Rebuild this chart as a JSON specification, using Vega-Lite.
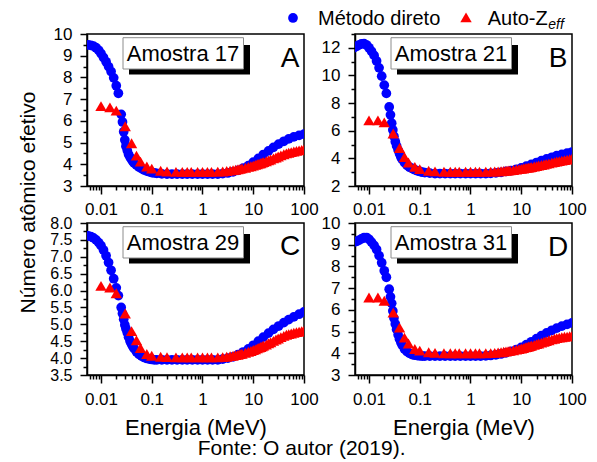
{
"$schema": "https://vega.github.io/schema/vega-lite/v6.json",
"background": "white",
"padding": {"left": 16, "top": 7, "right": 5, "bottom": 0},
"config": {
  "font": "Liberation Sans",
  "view": {"stroke": "black", "strokeWidth": 1.5},
  "axis": {"labelFontSize": 17, "labelColor": "black", "labelFont": "Liberation Sans", "domainColor": "black", "domainWidth": 1.5, "tickColor": "black", "tickWidth": 1.5, "grid": false, "titleColor": "black", "titleFontWeight": "normal", "titleFont": "Liberation Sans"},
  "text": {"color": "black"}
},
"title": {"text": "Fonte: O autor (2019).", "orient": "bottom", "anchor": "middle", "frame": "bounds", "fontSize": 21, "fontWeight": "normal", "color": "black", "font": "Liberation Sans", "offset": -1},
"datasets": {
  "mA": [{"e":0.005,"z":9.5},{"e":0.0056,"z":9.5},{"e":0.0063,"z":9.48},{"e":0.0071,"z":9.44},{"e":0.008,"z":9.37},{"e":0.009,"z":9.25},{"e":0.01,"z":9.1},{"e":0.0112,"z":8.92},{"e":0.0126,"z":8.72},{"e":0.0141,"z":8.5},{"e":0.0158,"z":8.27},{"e":0.0178,"z":7.98},{"e":0.02,"z":7.62},{"e":0.022,"z":7.27},{"e":0.025,"z":6.3},{"e":0.0265,"z":5.95},{"e":0.028,"z":5.5},{"e":0.0295,"z":5.12},{"e":0.031,"z":4.83},{"e":0.033,"z":4.63},{"e":0.035,"z":4.45},{"e":0.0375,"z":4.32},{"e":0.04,"z":4.22},{"e":0.0425,"z":4.13},{"e":0.045,"z":4.06},{"e":0.05,"z":3.96},{"e":0.056,"z":3.87},{"e":0.063,"z":3.8},{"e":0.071,"z":3.74},{"e":0.08,"z":3.69},{"e":0.09,"z":3.65},{"e":0.1,"z":3.62},{"e":0.112,"z":3.6},{"e":0.126,"z":3.58},{"e":0.158,"z":3.56},{"e":0.2,"z":3.55},{"e":0.25,"z":3.55},{"e":0.316,"z":3.55},{"e":0.4,"z":3.55},{"e":0.5,"z":3.55},{"e":0.63,"z":3.55},{"e":0.8,"z":3.55},{"e":1,"z":3.55},{"e":1.26,"z":3.55},{"e":1.58,"z":3.55},{"e":2,"z":3.55},{"e":2.5,"z":3.57},{"e":3.16,"z":3.6},{"e":4,"z":3.65},{"e":5,"z":3.72},{"e":6.3,"z":3.82},{"e":8,"z":3.94},{"e":10,"z":4.1},{"e":12.6,"z":4.27},{"e":15.8,"z":4.45},{"e":20,"z":4.62},{"e":25,"z":4.78},{"e":31.6,"z":4.93},{"e":40,"z":5.06},{"e":50,"z":5.17},{"e":63,"z":5.26},{"e":80,"z":5.33},{"e":100,"z":5.39}],
  "aA": [{"e":0.01,"z":6.68},{"e":0.015,"z":6.62},{"e":0.02,"z":6.47},{"e":0.03,"z":5.75},{"e":0.04,"z":4.97},{"e":0.05,"z":4.4},{"e":0.06,"z":4.12},{"e":0.08,"z":3.9},{"e":0.1,"z":3.8},{"e":0.15,"z":3.7},{"e":0.2,"z":3.67},{"e":0.3,"z":3.65},{"e":0.4,"z":3.65},{"e":0.5,"z":3.65},{"e":0.6,"z":3.65},{"e":0.8,"z":3.65},{"e":1,"z":3.65},{"e":1.25,"z":3.65},{"e":1.5,"z":3.65},{"e":2,"z":3.66},{"e":2.5,"z":3.67},{"e":3,"z":3.69},{"e":3.5,"z":3.71},{"e":4,"z":3.73},{"e":4.5,"z":3.75},{"e":5,"z":3.77},{"e":5.5,"z":3.79},{"e":6,"z":3.81},{"e":7,"z":3.84},{"e":8,"z":3.88},{"e":9,"z":3.91},{"e":10,"z":3.94},{"e":11,"z":3.97},{"e":12,"z":4.0},{"e":13,"z":4.03},{"e":14,"z":4.05},{"e":15,"z":4.08},{"e":16,"z":4.1},{"e":18,"z":4.14},{"e":20,"z":4.18},{"e":22,"z":4.22},{"e":25,"z":4.27},{"e":28,"z":4.31},{"e":31,"z":4.36},{"e":35,"z":4.41},{"e":40,"z":4.46},{"e":45,"z":4.5},{"e":50,"z":4.53},{"e":56,"z":4.56},{"e":63,"z":4.59},{"e":71,"z":4.62},{"e":80,"z":4.64},{"e":90,"z":4.66},{"e":100,"z":4.68}],
  "mB": [{"e":0.005,"z":12.0},{"e":0.0056,"z":12.1},{"e":0.0063,"z":12.2},{"e":0.0071,"z":12.28},{"e":0.008,"z":12.3},{"e":0.009,"z":12.2},{"e":0.01,"z":12.0},{"e":0.0112,"z":11.75},{"e":0.0126,"z":11.45},{"e":0.0141,"z":11.05},{"e":0.0158,"z":10.55},{"e":0.0178,"z":9.95},{"e":0.02,"z":9.3},{"e":0.022,"z":8.7},{"e":0.025,"z":7.72},{"e":0.0265,"z":7.15},{"e":0.028,"z":6.55},{"e":0.0295,"z":6.05},{"e":0.031,"z":5.6},{"e":0.033,"z":5.2},{"e":0.035,"z":4.9},{"e":0.0375,"z":4.6},{"e":0.04,"z":4.33},{"e":0.0425,"z":4.1},{"e":0.045,"z":3.93},{"e":0.05,"z":3.7},{"e":0.056,"z":3.5},{"e":0.063,"z":3.36},{"e":0.071,"z":3.27},{"e":0.08,"z":3.18},{"e":0.09,"z":3.1},{"e":0.1,"z":3.05},{"e":0.112,"z":3.0},{"e":0.126,"z":2.97},{"e":0.158,"z":2.93},{"e":0.2,"z":2.9},{"e":0.25,"z":2.9},{"e":0.316,"z":2.9},{"e":0.4,"z":2.9},{"e":0.5,"z":2.9},{"e":0.63,"z":2.9},{"e":0.8,"z":2.9},{"e":1,"z":2.9},{"e":1.26,"z":2.9},{"e":1.58,"z":2.9},{"e":2,"z":2.9},{"e":2.5,"z":2.92},{"e":3.16,"z":2.95},{"e":4,"z":2.99},{"e":5,"z":3.05},{"e":6.3,"z":3.12},{"e":8,"z":3.21},{"e":10,"z":3.31},{"e":12.6,"z":3.43},{"e":15.8,"z":3.56},{"e":20,"z":3.7},{"e":25,"z":3.83},{"e":31.6,"z":3.96},{"e":40,"z":4.08},{"e":50,"z":4.19},{"e":63,"z":4.29},{"e":80,"z":4.38},{"e":100,"z":4.46}],
  "aB": [{"e":0.01,"z":6.75},{"e":0.015,"z":6.75},{"e":0.02,"z":6.6},{"e":0.03,"z":5.8},{"e":0.04,"z":4.75},{"e":0.05,"z":4.1},{"e":0.06,"z":3.7},{"e":0.08,"z":3.38},{"e":0.1,"z":3.22},{"e":0.15,"z":3.1},{"e":0.2,"z":3.06},{"e":0.3,"z":3.03},{"e":0.4,"z":3.03},{"e":0.5,"z":3.03},{"e":0.6,"z":3.03},{"e":0.8,"z":3.03},{"e":1,"z":3.03},{"e":1.25,"z":3.03},{"e":1.5,"z":3.03},{"e":2,"z":3.03},{"e":2.5,"z":3.04},{"e":3,"z":3.05},{"e":3.5,"z":3.06},{"e":4,"z":3.07},{"e":4.5,"z":3.09},{"e":5,"z":3.1},{"e":5.5,"z":3.12},{"e":6,"z":3.13},{"e":7,"z":3.16},{"e":8,"z":3.19},{"e":9,"z":3.22},{"e":10,"z":3.24},{"e":11,"z":3.27},{"e":12,"z":3.29},{"e":13,"z":3.31},{"e":14,"z":3.33},{"e":15,"z":3.35},{"e":16,"z":3.37},{"e":18,"z":3.41},{"e":20,"z":3.44},{"e":22,"z":3.48},{"e":25,"z":3.52},{"e":28,"z":3.56},{"e":31,"z":3.6},{"e":35,"z":3.64},{"e":40,"z":3.69},{"e":45,"z":3.73},{"e":50,"z":3.77},{"e":56,"z":3.8},{"e":63,"z":3.84},{"e":71,"z":3.87},{"e":80,"z":3.91},{"e":90,"z":3.94},{"e":100,"z":3.97}],
  "mC": [{"e":0.005,"z":7.63},{"e":0.0056,"z":7.62},{"e":0.0063,"z":7.6},{"e":0.0071,"z":7.56},{"e":0.008,"z":7.5},{"e":0.009,"z":7.42},{"e":0.01,"z":7.33},{"e":0.0112,"z":7.2},{"e":0.0126,"z":7.03},{"e":0.0141,"z":6.83},{"e":0.0158,"z":6.6},{"e":0.0178,"z":6.35},{"e":0.02,"z":6.08},{"e":0.022,"z":5.85},{"e":0.025,"z":5.5},{"e":0.0265,"z":5.32},{"e":0.028,"z":5.15},{"e":0.0295,"z":4.98},{"e":0.031,"z":4.87},{"e":0.033,"z":4.75},{"e":0.035,"z":4.62},{"e":0.0375,"z":4.5},{"e":0.04,"z":4.41},{"e":0.0425,"z":4.34},{"e":0.045,"z":4.28},{"e":0.05,"z":4.19},{"e":0.056,"z":4.11},{"e":0.063,"z":4.06},{"e":0.071,"z":4.02},{"e":0.08,"z":3.99},{"e":0.09,"z":3.97},{"e":0.1,"z":3.96},{"e":0.112,"z":3.95},{"e":0.126,"z":3.95},{"e":0.158,"z":3.95},{"e":0.2,"z":3.95},{"e":0.25,"z":3.95},{"e":0.316,"z":3.95},{"e":0.4,"z":3.95},{"e":0.5,"z":3.95},{"e":0.63,"z":3.95},{"e":0.8,"z":3.95},{"e":1,"z":3.95},{"e":1.26,"z":3.95},{"e":1.58,"z":3.95},{"e":2,"z":3.95},{"e":2.5,"z":3.97},{"e":3.16,"z":4.0},{"e":4,"z":4.04},{"e":5,"z":4.1},{"e":6.3,"z":4.18},{"e":8,"z":4.27},{"e":10,"z":4.38},{"e":12.6,"z":4.5},{"e":15.8,"z":4.62},{"e":20,"z":4.74},{"e":25,"z":4.85},{"e":31.6,"z":4.95},{"e":40,"z":5.05},{"e":50,"z":5.14},{"e":63,"z":5.22},{"e":80,"z":5.3},{"e":100,"z":5.37}],
  "aC": [{"e":0.01,"z":6.14},{"e":0.015,"z":6.09},{"e":0.02,"z":5.92},{"e":0.03,"z":5.32},{"e":0.04,"z":4.8},{"e":0.05,"z":4.53},{"e":0.06,"z":4.3},{"e":0.08,"z":4.12},{"e":0.1,"z":4.07},{"e":0.15,"z":4.04},{"e":0.2,"z":4.03},{"e":0.3,"z":4.02},{"e":0.4,"z":4.02},{"e":0.5,"z":4.02},{"e":0.6,"z":4.02},{"e":0.8,"z":4.02},{"e":1,"z":4.02},{"e":1.25,"z":4.02},{"e":1.5,"z":4.02},{"e":2,"z":4.02},{"e":2.5,"z":4.03},{"e":3,"z":4.04},{"e":3.5,"z":4.06},{"e":4,"z":4.07},{"e":4.5,"z":4.09},{"e":5,"z":4.1},{"e":5.5,"z":4.12},{"e":6,"z":4.13},{"e":7,"z":4.16},{"e":8,"z":4.19},{"e":9,"z":4.21},{"e":10,"z":4.24},{"e":11,"z":4.26},{"e":12,"z":4.29},{"e":13,"z":4.31},{"e":14,"z":4.33},{"e":15,"z":4.35},{"e":16,"z":4.37},{"e":18,"z":4.4},{"e":20,"z":4.44},{"e":22,"z":4.47},{"e":25,"z":4.51},{"e":28,"z":4.55},{"e":31,"z":4.58},{"e":35,"z":4.62},{"e":40,"z":4.66},{"e":45,"z":4.69},{"e":50,"z":4.71},{"e":56,"z":4.73},{"e":63,"z":4.75},{"e":71,"z":4.77},{"e":80,"z":4.78},{"e":90,"z":4.8},{"e":100,"z":4.81}],
  "mD": [{"e":0.005,"z":9.12},{"e":0.0056,"z":9.15},{"e":0.0063,"z":9.2},{"e":0.0071,"z":9.27},{"e":0.008,"z":9.33},{"e":0.009,"z":9.33},{"e":0.01,"z":9.25},{"e":0.0112,"z":9.12},{"e":0.0126,"z":8.97},{"e":0.0141,"z":8.78},{"e":0.0158,"z":8.5},{"e":0.0178,"z":8.17},{"e":0.02,"z":7.8},{"e":0.022,"z":7.5},{"e":0.025,"z":6.95},{"e":0.0265,"z":6.6},{"e":0.028,"z":6.3},{"e":0.0295,"z":5.95},{"e":0.031,"z":5.62},{"e":0.033,"z":5.35},{"e":0.035,"z":5.1},{"e":0.0375,"z":4.85},{"e":0.04,"z":4.65},{"e":0.0425,"z":4.5},{"e":0.045,"z":4.38},{"e":0.05,"z":4.2},{"e":0.056,"z":4.08},{"e":0.063,"z":4.0},{"e":0.071,"z":3.94},{"e":0.08,"z":3.91},{"e":0.09,"z":3.89},{"e":0.1,"z":3.88},{"e":0.112,"z":3.87},{"e":0.126,"z":3.87},{"e":0.158,"z":3.87},{"e":0.2,"z":3.87},{"e":0.25,"z":3.87},{"e":0.316,"z":3.87},{"e":0.4,"z":3.87},{"e":0.5,"z":3.87},{"e":0.63,"z":3.87},{"e":0.8,"z":3.87},{"e":1,"z":3.87},{"e":1.26,"z":3.87},{"e":1.58,"z":3.87},{"e":2,"z":3.88},{"e":2.5,"z":3.9},{"e":3.16,"z":3.93},{"e":4,"z":3.97},{"e":5,"z":4.02},{"e":6.3,"z":4.09},{"e":8,"z":4.17},{"e":10,"z":4.27},{"e":12.6,"z":4.4},{"e":15.8,"z":4.53},{"e":20,"z":4.67},{"e":25,"z":4.81},{"e":31.6,"z":4.94},{"e":40,"z":5.06},{"e":50,"z":5.16},{"e":63,"z":5.25},{"e":80,"z":5.33},{"e":100,"z":5.4}],
  "aD": [{"e":0.01,"z":6.57},{"e":0.015,"z":6.57},{"e":0.02,"z":6.42},{"e":0.03,"z":5.87},{"e":0.04,"z":5.18},{"e":0.05,"z":4.72},{"e":0.06,"z":4.45},{"e":0.08,"z":4.2},{"e":0.1,"z":4.12},{"e":0.15,"z":4.05},{"e":0.2,"z":4.02},{"e":0.3,"z":4.0},{"e":0.4,"z":4.0},{"e":0.5,"z":4.0},{"e":0.6,"z":4.0},{"e":0.8,"z":4.0},{"e":1,"z":4.0},{"e":1.25,"z":4.0},{"e":1.5,"z":4.0},{"e":2,"z":4.0},{"e":2.5,"z":4.01},{"e":3,"z":4.02},{"e":3.5,"z":4.04},{"e":4,"z":4.05},{"e":4.5,"z":4.07},{"e":5,"z":4.08},{"e":5.5,"z":4.1},{"e":6,"z":4.11},{"e":7,"z":4.14},{"e":8,"z":4.17},{"e":9,"z":4.19},{"e":10,"z":4.22},{"e":11,"z":4.24},{"e":12,"z":4.27},{"e":13,"z":4.29},{"e":14,"z":4.31},{"e":15,"z":4.33},{"e":16,"z":4.35},{"e":18,"z":4.39},{"e":20,"z":4.42},{"e":22,"z":4.45},{"e":25,"z":4.49},{"e":28,"z":4.53},{"e":31,"z":4.56},{"e":35,"z":4.6},{"e":40,"z":4.64},{"e":45,"z":4.67},{"e":50,"z":4.7},{"e":56,"z":4.72},{"e":63,"z":4.74},{"e":71,"z":4.76},{"e":80,"z":4.77},{"e":90,"z":4.79},{"e":100,"z":4.8}]
},
"columns": 2,
"spacing": {"row": 37, "column": 51},
"bounds": "flush",
"concat": [
{
 "width": 217, "height": 152,
 "layer": [
  {"data": {"name": "mA"},
   "mark": {"type": "point", "shape": "circle", "filled": true, "size": 95, "color": "#0000ff", "opacity": 1, "clip": true},
   "encoding": {
    "x": {"field": "e", "type": "quantitative", "scale": {"type": "log", "domain": [0.0053, 100], "nice": false}, "axis": {"orient": "bottom", "values": [0.01, 0.1, 1, 10, 100], "format": "~g", "tickSize": 8, "labelPadding": 7, "labelFlush": false, "labelOverlap": false, "title": null}},
    "y": {"field": "z", "type": "quantitative", "scale": {"domain": [3, 10], "nice": false, "zero": false}, "axis": {"orient": "left", "values": [3, 4, 5, 6, 7, 8, 9, 10], "tickSize": 7, "labelPadding": 8, "labelFlush": false, "labelOverlap": false, "title": "Número atômico efetivo", "titleFontSize": 21, "titleAngle": 270, "titleAlign": "center", "titleBaseline": "alphabetic", "titleX": -53, "titleY": 168}}
   }},
  {"data": {"name": "aA"},
   "mark": {"type": "point", "shape": "triangle-up", "filled": true, "size": 130, "color": "#ff0000", "opacity": 1, "clip": true},
   "encoding": {
    "x": {"field": "e", "type": "quantitative", "scale": {"type": "log", "domain": [0.0053, 100], "nice": false}, "axis": {"orient": "bottom", "values": [0.006,0.007,0.008,0.009,0.02,0.03,0.04,0.05,0.06,0.07,0.08,0.09,0.2,0.3,0.4,0.5,0.6,0.7,0.8,0.9,2,3,4,5,6,7,8,9,20,30,40,50,60,70,80,90], "tickSize": 4, "labels": false, "domain": false, "title": null}},
    "y": {"field": "z", "type": "quantitative", "scale": {"domain": [3, 10], "nice": false, "zero": false}, "axis": {"orient": "left", "values": [3.5, 4.5, 5.5, 6.5, 7.5, 8.5, 9.5], "tickSize": 4, "labels": false, "domain": false, "title": null}}
   }},
  {"data": {"values": [{}]}, "mark": {"type": "rect", "color": "#000000"},
   "encoding": {"x": {"datum": 0.03564, "type": "quantitative", "scale": {"type": "log", "domain": [0.0053, 100], "nice": false}, "axis": null}, "x2": {"datum": 8.63}, "y": {"datum": 9.493, "type": "quantitative", "scale": {"domain": [3, 10], "nice": false, "zero": false}, "axis": null}, "y2": {"datum": 8.135}}},
  {"data": {"values": [{}]}, "mark": {"type": "rect", "fill": "#ffffff", "stroke": "#8c8c8c", "strokeWidth": 1},
   "encoding": {"x": {"datum": 0.02715, "type": "quantitative", "scale": {"type": "log", "domain": [0.0053, 100], "nice": false}, "axis": null}, "x2": {"datum": 6.43}, "y": {"datum": 9.83, "type": "quantitative", "scale": {"domain": [3, 10], "nice": false, "zero": false}, "axis": null}, "y2": {"datum": 8.388}}},
  {"data": {"values": [{"label": "Amostra 17"}]}, "mark": {"type": "text", "fontSize": 22, "align": "center", "baseline": "alphabetic"},
   "encoding": {"text": {"field": "label"}, "x": {"datum": 0.413, "type": "quantitative", "scale": {"type": "log", "domain": [0.0053, 100], "nice": false}, "axis": null}, "y": {"datum": 8.743, "type": "quantitative", "scale": {"domain": [3, 10], "nice": false, "zero": false}, "axis": null}}},
  {"data": {"values": [{"label": "A"}]}, "mark": {"type": "text", "fontSize": 28, "align": "center", "baseline": "alphabetic"},
   "encoding": {"text": {"field": "label"}, "x": {"datum": 53, "type": "quantitative", "scale": {"type": "log", "domain": [0.0053, 100], "nice": false}, "axis": null}, "y": {"datum": 8.5, "type": "quantitative", "scale": {"domain": [3, 10], "nice": false, "zero": false}, "axis": null}}}
 ],
 "resolve": {"axis": {"x": "independent", "y": "independent"}}
},
{
 "width": 217, "height": 152,
 "layer": [
  {"data": {"name": "mB"},
   "mark": {"type": "point", "shape": "circle", "filled": true, "size": 95, "color": "#0000ff", "opacity": 1, "clip": true},
   "encoding": {
    "x": {"field": "e", "type": "quantitative", "scale": {"type": "log", "domain": [0.0053, 100], "nice": false}, "axis": {"orient": "bottom", "values": [0.01, 0.1, 1, 10, 100], "format": "~g", "tickSize": 8, "labelPadding": 7, "labelFlush": false, "labelOverlap": false, "title": null}},
    "y": {"field": "z", "type": "quantitative", "scale": {"domain": [2, 13], "nice": false, "zero": false}, "axis": {"orient": "left", "values": [2, 4, 6, 8, 10, 12], "tickSize": 7, "labelPadding": 8, "labelFlush": false, "labelOverlap": false, "title": null}}
   }},
  {"data": {"name": "aB"},
   "mark": {"type": "point", "shape": "triangle-up", "filled": true, "size": 130, "color": "#ff0000", "opacity": 1, "clip": true},
   "encoding": {
    "x": {"field": "e", "type": "quantitative", "scale": {"type": "log", "domain": [0.0053, 100], "nice": false}, "axis": {"orient": "bottom", "values": [0.006,0.007,0.008,0.009,0.02,0.03,0.04,0.05,0.06,0.07,0.08,0.09,0.2,0.3,0.4,0.5,0.6,0.7,0.8,0.9,2,3,4,5,6,7,8,9,20,30,40,50,60,70,80,90], "tickSize": 4, "labels": false, "domain": false, "title": null}},
    "y": {"field": "z", "type": "quantitative", "scale": {"domain": [2, 13], "nice": false, "zero": false}, "axis": {"orient": "left", "values": [3, 5, 7, 9, 11, 13], "tickSize": 4, "labels": false, "domain": false, "title": null}}
   }},
  {"data": {"values": [{}]}, "mark": {"type": "rect", "color": "#000000"},
   "encoding": {"x": {"datum": 0.03564, "type": "quantitative", "scale": {"type": "log", "domain": [0.0053, 100], "nice": false}, "axis": null}, "x2": {"datum": 8.63}, "y": {"datum": 12.204, "type": "quantitative", "scale": {"domain": [2, 13], "nice": false, "zero": false}, "axis": null}, "y2": {"datum": 10.069}}},
  {"data": {"values": [{}]}, "mark": {"type": "rect", "fill": "#ffffff", "stroke": "#8c8c8c", "strokeWidth": 1},
   "encoding": {"x": {"datum": 0.02715, "type": "quantitative", "scale": {"type": "log", "domain": [0.0053, 100], "nice": false}, "axis": null}, "x2": {"datum": 6.43}, "y": {"datum": 12.732, "type": "quantitative", "scale": {"domain": [2, 13], "nice": false, "zero": false}, "axis": null}, "y2": {"datum": 10.467}}},
  {"data": {"values": [{"label": "Amostra 21"}]}, "mark": {"type": "text", "fontSize": 22, "align": "center", "baseline": "alphabetic"},
   "encoding": {"text": {"field": "label"}, "x": {"datum": 0.413, "type": "quantitative", "scale": {"type": "log", "domain": [0.0053, 100], "nice": false}, "axis": null}, "y": {"datum": 11.024, "type": "quantitative", "scale": {"domain": [2, 13], "nice": false, "zero": false}, "axis": null}}},
  {"data": {"values": [{"label": "B"}]}, "mark": {"type": "text", "fontSize": 28, "align": "center", "baseline": "alphabetic"},
   "encoding": {"text": {"field": "label"}, "x": {"datum": 53, "type": "quantitative", "scale": {"type": "log", "domain": [0.0053, 100], "nice": false}, "axis": null}, "y": {"datum": 10.64, "type": "quantitative", "scale": {"domain": [2, 13], "nice": false, "zero": false}, "axis": null}}},
  {"data": {"values": [{}]}, "mark": {"type": "point", "shape": "circle", "filled": true, "size": 95, "color": "#0000ff", "opacity": 1},
   "encoding": {"x": {"datum": 0.000318, "type": "quantitative", "scale": {"type": "log", "domain": [0.0053, 100], "nice": false}, "axis": null}, "y": {"datum": 14.16, "type": "quantitative", "scale": {"domain": [2, 13], "nice": false, "zero": false}, "axis": null}}},
  {"data": {"values": [{"label": "Método direto"}]}, "mark": {"type": "text", "fontSize": 20, "align": "left", "baseline": "alphabetic"},
   "encoding": {"text": {"field": "label"}, "x": {"datum": 0.000989, "type": "quantitative", "scale": {"type": "log", "domain": [0.0053, 100], "nice": false}, "axis": null}, "y": {"datum": 13.673, "type": "quantitative", "scale": {"domain": [2, 13], "nice": false, "zero": false}, "axis": null}}},
  {"data": {"values": [{}]}, "mark": {"type": "point", "shape": "triangle-up", "filled": true, "size": 130, "color": "#ff0000", "opacity": 1},
   "encoding": {"x": {"datum": 0.816, "type": "quantitative", "scale": {"type": "log", "domain": [0.0053, 100], "nice": false}, "axis": null}, "y": {"datum": 14.2, "type": "quantitative", "scale": {"domain": [2, 13], "nice": false, "zero": false}, "axis": null}}},
  {"data": {"values": [{"label": "Auto-Z"}]}, "mark": {"type": "text", "fontSize": 20, "align": "left", "baseline": "alphabetic"},
   "encoding": {"text": {"field": "label"}, "x": {"datum": 2.18, "type": "quantitative", "scale": {"type": "log", "domain": [0.0053, 100], "nice": false}, "axis": null}, "y": {"datum": 13.673, "type": "quantitative", "scale": {"domain": [2, 13], "nice": false, "zero": false}, "axis": null}}},
  {"data": {"values": [{"label": "eff"}]}, "mark": {"type": "text", "fontSize": 14, "fontStyle": "italic", "align": "left", "baseline": "alphabetic"},
   "encoding": {"text": {"field": "label"}, "x": {"datum": 34, "type": "quantitative", "scale": {"type": "log", "domain": [0.0053, 100], "nice": false}, "axis": null}, "y": {"datum": 13.384, "type": "quantitative", "scale": {"domain": [2, 13], "nice": false, "zero": false}, "axis": null}}}
 ],
 "resolve": {"axis": {"x": "independent", "y": "independent"}}
},
{
 "width": 217, "height": 152,
 "layer": [
  {"data": {"name": "mC"},
   "mark": {"type": "point", "shape": "circle", "filled": true, "size": 95, "color": "#0000ff", "opacity": 1, "clip": true},
   "encoding": {
    "x": {"field": "e", "type": "quantitative", "scale": {"type": "log", "domain": [0.0053, 100], "nice": false}, "axis": {"orient": "bottom", "values": [0.01, 0.1, 1, 10, 100], "format": "~g", "tickSize": 8, "labelPadding": 8, "labelFlush": false, "labelOverlap": false, "title": "Energia (MeV)", "titleFontSize": 22, "titlePadding": 10}},
    "y": {"field": "z", "type": "quantitative", "scale": {"domain": [3.5, 8], "nice": false, "zero": false}, "axis": {"orient": "left", "values": [3.5, 4, 4.5, 5, 5.5, 6, 6.5, 7, 7.5, 8], "format": ".1f", "labelFontSize": 16, "tickSize": 7, "labelPadding": 8, "labelFlush": false, "labelOverlap": false, "title": null}}
   }},
  {"data": {"name": "aC"},
   "mark": {"type": "point", "shape": "triangle-up", "filled": true, "size": 130, "color": "#ff0000", "opacity": 1, "clip": true},
   "encoding": {
    "x": {"field": "e", "type": "quantitative", "scale": {"type": "log", "domain": [0.0053, 100], "nice": false}, "axis": {"orient": "bottom", "values": [0.006,0.007,0.008,0.009,0.02,0.03,0.04,0.05,0.06,0.07,0.08,0.09,0.2,0.3,0.4,0.5,0.6,0.7,0.8,0.9,2,3,4,5,6,7,8,9,20,30,40,50,60,70,80,90], "tickSize": 4, "labels": false, "domain": false, "title": null}},
    "y": {"field": "z", "type": "quantitative", "scale": {"domain": [3.5, 8], "nice": false, "zero": false}, "axis": {"orient": "left", "values": [3.75, 4.25, 4.75, 5.25, 5.75, 6.25, 6.75, 7.25, 7.75], "tickSize": 4, "labels": false, "domain": false, "title": null}}
   }},
  {"data": {"values": [{}]}, "mark": {"type": "rect", "color": "#000000"},
   "encoding": {"x": {"datum": 0.03564, "type": "quantitative", "scale": {"type": "log", "domain": [0.0053, 100], "nice": false}, "axis": null}, "x2": {"datum": 8.63}, "y": {"datum": 7.674, "type": "quantitative", "scale": {"domain": [3.5, 8], "nice": false, "zero": false}, "axis": null}, "y2": {"datum": 6.801}}},
  {"data": {"values": [{}]}, "mark": {"type": "rect", "fill": "#ffffff", "stroke": "#8c8c8c", "strokeWidth": 1},
   "encoding": {"x": {"datum": 0.02715, "type": "quantitative", "scale": {"type": "log", "domain": [0.0053, 100], "nice": false}, "axis": null}, "x2": {"datum": 6.43}, "y": {"datum": 7.89, "type": "quantitative", "scale": {"domain": [3.5, 8], "nice": false, "zero": false}, "axis": null}, "y2": {"datum": 6.964}}},
  {"data": {"values": [{"label": "Amostra 29"}]}, "mark": {"type": "text", "fontSize": 22, "align": "center", "baseline": "alphabetic"},
   "encoding": {"text": {"field": "label"}, "x": {"datum": 0.413, "type": "quantitative", "scale": {"type": "log", "domain": [0.0053, 100], "nice": false}, "axis": null}, "y": {"datum": 7.192, "type": "quantitative", "scale": {"domain": [3.5, 8], "nice": false, "zero": false}, "axis": null}}},
  {"data": {"values": [{"label": "C"}]}, "mark": {"type": "text", "fontSize": 28, "align": "center", "baseline": "alphabetic"},
   "encoding": {"text": {"field": "label"}, "x": {"datum": 53, "type": "quantitative", "scale": {"type": "log", "domain": [0.0053, 100], "nice": false}, "axis": null}, "y": {"datum": 7.06, "type": "quantitative", "scale": {"domain": [3.5, 8], "nice": false, "zero": false}, "axis": null}}}
 ],
 "resolve": {"axis": {"x": "independent", "y": "independent"}}
},
{
 "width": 217, "height": 152,
 "layer": [
  {"data": {"name": "mD"},
   "mark": {"type": "point", "shape": "circle", "filled": true, "size": 95, "color": "#0000ff", "opacity": 1, "clip": true},
   "encoding": {
    "x": {"field": "e", "type": "quantitative", "scale": {"type": "log", "domain": [0.0053, 100], "nice": false}, "axis": {"orient": "bottom", "values": [0.01, 0.1, 1, 10, 100], "format": "~g", "tickSize": 8, "labelPadding": 8, "labelFlush": false, "labelOverlap": false, "title": "Energia (MeV)", "titleFontSize": 22, "titlePadding": 10}},
    "y": {"field": "z", "type": "quantitative", "scale": {"domain": [3, 10], "nice": false, "zero": false}, "axis": {"orient": "left", "values": [3, 4, 5, 6, 7, 8, 9, 10], "tickSize": 7, "labelPadding": 8, "labelFlush": false, "labelOverlap": false, "title": null}}
   }},
  {"data": {"name": "aD"},
   "mark": {"type": "point", "shape": "triangle-up", "filled": true, "size": 130, "color": "#ff0000", "opacity": 1, "clip": true},
   "encoding": {
    "x": {"field": "e", "type": "quantitative", "scale": {"type": "log", "domain": [0.0053, 100], "nice": false}, "axis": {"orient": "bottom", "values": [0.006,0.007,0.008,0.009,0.02,0.03,0.04,0.05,0.06,0.07,0.08,0.09,0.2,0.3,0.4,0.5,0.6,0.7,0.8,0.9,2,3,4,5,6,7,8,9,20,30,40,50,60,70,80,90], "tickSize": 4, "labels": false, "domain": false, "title": null}},
    "y": {"field": "z", "type": "quantitative", "scale": {"domain": [3, 10], "nice": false, "zero": false}, "axis": {"orient": "left", "values": [3.5, 4.5, 5.5, 6.5, 7.5, 8.5, 9.5], "tickSize": 4, "labels": false, "domain": false, "title": null}}
   }},
  {"data": {"values": [{}]}, "mark": {"type": "rect", "color": "#000000"},
   "encoding": {"x": {"datum": 0.03564, "type": "quantitative", "scale": {"type": "log", "domain": [0.0053, 100], "nice": false}, "axis": null}, "x2": {"datum": 8.63}, "y": {"datum": 9.493, "type": "quantitative", "scale": {"domain": [3, 10], "nice": false, "zero": false}, "axis": null}, "y2": {"datum": 8.135}}},
  {"data": {"values": [{}]}, "mark": {"type": "rect", "fill": "#ffffff", "stroke": "#8c8c8c", "strokeWidth": 1},
   "encoding": {"x": {"datum": 0.02715, "type": "quantitative", "scale": {"type": "log", "domain": [0.0053, 100], "nice": false}, "axis": null}, "x2": {"datum": 6.43}, "y": {"datum": 9.83, "type": "quantitative", "scale": {"domain": [3, 10], "nice": false, "zero": false}, "axis": null}, "y2": {"datum": 8.388}}},
  {"data": {"values": [{"label": "Amostra 31"}]}, "mark": {"type": "text", "fontSize": 22, "align": "center", "baseline": "alphabetic"},
   "encoding": {"text": {"field": "label"}, "x": {"datum": 0.413, "type": "quantitative", "scale": {"type": "log", "domain": [0.0053, 100], "nice": false}, "axis": null}, "y": {"datum": 8.743, "type": "quantitative", "scale": {"domain": [3, 10], "nice": false, "zero": false}, "axis": null}}},
  {"data": {"values": [{"label": "D"}]}, "mark": {"type": "text", "fontSize": 28, "align": "center", "baseline": "alphabetic"},
   "encoding": {"text": {"field": "label"}, "x": {"datum": 53, "type": "quantitative", "scale": {"type": "log", "domain": [0.0053, 100], "nice": false}, "axis": null}, "y": {"datum": 8.5, "type": "quantitative", "scale": {"domain": [3, 10], "nice": false, "zero": false}, "axis": null}}}
 ],
 "resolve": {"axis": {"x": "independent", "y": "independent"}}
}
]
}
